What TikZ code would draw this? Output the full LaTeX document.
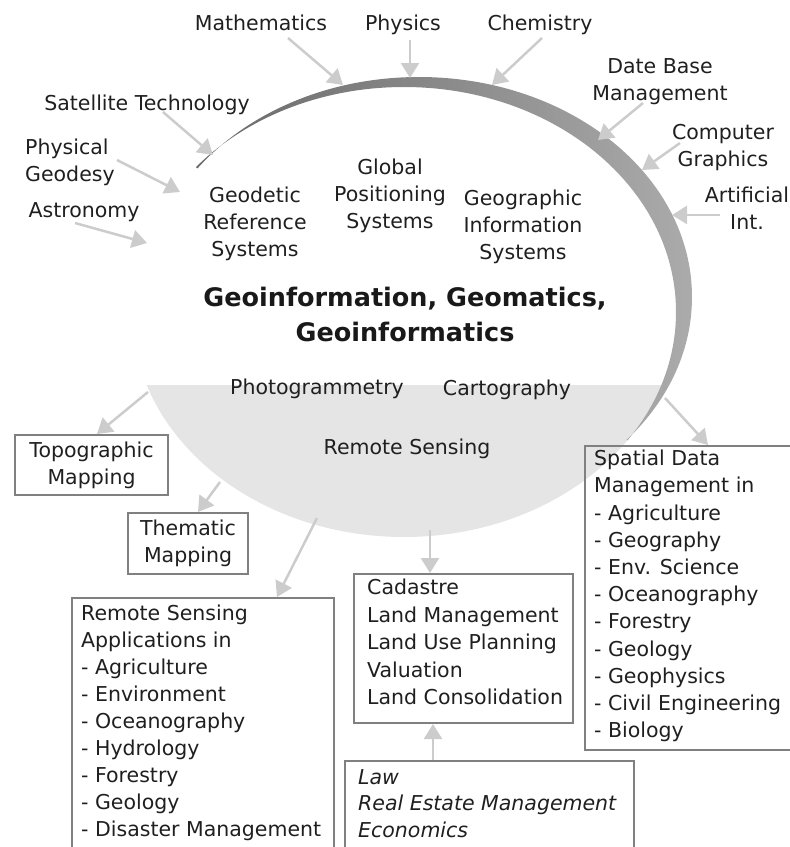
\documentclass[tikz,border=0pt]{standalone}
\usepackage{fontspec}
\setmainfont{DejaVu Sans}
\usetikzlibrary{arrows.meta}
\begin{document}
\begin{tikzpicture}[x=1pt,y=-1pt,
  lbl/.style={inner sep=0pt, text=black!88, font=\fontsize{20.5}{27}\selectfont},
  ttl/.style={inner sep=0pt, text=black!90, font=\bfseries\fontsize{25.5}{35}\selectfont, align=center},
  frame/.style={draw=black!50, line width=2pt, inner sep=0pt, anchor=north west},
  arr/.style={draw=black!20, line width=2.5pt, -{Triangle[length=15pt,width=18pt]}},
]
\useasboundingbox (0,0) rectangle (790,847);
\clip (0,0) rectangle (790,847);

% lower light-grey half of the ellipse
\begin{scope}
  \clip (0,385) rectangle (790,847);
  \fill[black!10] (404,312) ellipse[x radius=272pt, y radius=225pt];
\end{scope}
% grey crescent
\begin{scope}
  \clip (404,312) -- (-10,24) -- (-10,-10) -- (850,-10) -- (850,568) -- cycle;
  \shade[even odd rule, left color=black!62, right color=black!33]
    (419,297) ellipse[x radius=273pt, y radius=220pt]
    (404,312) ellipse[x radius=272pt, y radius=225pt];
\end{scope}

% outer labels
\node[lbl, anchor=base] (math) at (261,30.5) {Mathematics};
\node[lbl, anchor=base] (phys) at (403,30.5) {Physics};
\node[lbl, anchor=base] (chem) at (540,30.5) {Chemistry};
\node[lbl, anchor=north, align=center] (dbm) at (660,58) {Date Base\\Management};
\node[lbl, anchor=north, align=center] (cg) at (723,124) {Computer\\Graphics};
\node[lbl, anchor=north, align=center] (ai) at (747,187) {Artificial\\Int.};
\node[lbl, anchor=base] (sat) at (147,110.5) {Satellite Technology};
\node[lbl, anchor=north west, align=left] (pg) at (25,139) {Physical\\Geodesy};
\node[lbl, anchor=base] (astro) at (84,217.5) {Astronomy};

% inner labels
\node[lbl, anchor=north, align=center] (grs) at (255,187) {Geodetic\\Reference\\Systems};
\node[lbl, anchor=north, align=center] (gps) at (390,159) {Global\\Positioning\\Systems};
\node[lbl, anchor=north, align=center] (gis) at (523,190) {Geographic\\Information\\Systems};
\node[ttl, anchor=north] (title) at (405,287) {Geoinformation, Geomatics,\\Geoinformatics};
\node[lbl, anchor=base] (photo) at (317,394.5) {Photogrammetry};
\node[lbl, anchor=base] (carto) at (507,395.5) {Cartography};
\node[lbl, anchor=base] (rs) at (407,454.5) {Remote Sensing};

% boxes
\node[frame, lbl, minimum width=153pt, minimum height=60pt, align=center] (topo) at (14,434) {Topographic\\Mapping};
\node[frame, lbl, minimum width=120pt, minimum height=61pt, align=center] (them) at (127,512) {Thematic\\Mapping};

\node[frame, minimum width=262pt, minimum height=280pt] (rsbox) at (71,597) {};
\node[lbl, anchor=north west, align=left] (rstext) at (81,605)
  {Remote Sensing\\Applications in\\- Agriculture\\- Environment\\- Oceanography\\- Hydrology\\- Forestry\\- Geology\\- Disaster Management};

\node[frame, minimum width=219pt, minimum height=149pt] (cad) at (353,573) {};
\node[lbl, anchor=north west, align=left, font=\fontsize{20.5}{27.5}\selectfont] (cadtext) at (367,579)
  {Cadastre\\Land Management\\Land Use Planning\\Valuation\\Land Consolidation};

\node[frame, minimum width=289pt, minimum height=120pt] (law) at (344,760) {};
\node[lbl, anchor=north west, align=left, font=\itshape\fontsize{20.5}{26.5}\selectfont] (lawtext) at (358,769)
  {Law\\Real Estate Management\\Economics};

\node[frame, minimum width=230pt, minimum height=304pt] (sdm) at (584,445) {};
\node[lbl, anchor=north west, align=left, font=\fontsize{20.5}{27.2}\selectfont] (sdmtext) at (594,450)
  {Spatial Data\\Management in\\- Agriculture\\- Geography\\- Env. Science\\- Oceanography\\- Forestry\\- Geology\\- Geophysics\\- Civil Engineering\\- Biology};

% arrow end points
\coordinate (mathS) at (288,38);  \coordinate (mathT) at (343,85);
\coordinate (physS) at (410,40);  \coordinate (physT) at (410,78);
\coordinate (chemS) at (542,38);  \coordinate (chemT) at (492,85);
\coordinate (dbmS) at (643,103);  \coordinate (dbmT) at (598,140);
\coordinate (cgS) at (680,143);   \coordinate (cgT) at (642,170);
\coordinate (aiS) at (720,215);   \coordinate (aiT) at (672,215);
\coordinate (satS) at (163,112);  \coordinate (satT) at (213,155);
\coordinate (pgS) at (117,160);   \coordinate (pgT) at (180,192);
\coordinate (astS) at (75,223);   \coordinate (astT) at (147,243);
\coordinate (topoS) at (148,392);
\coordinate (themS) at (220,482);
\coordinate (rsaS) at (317,518);
\coordinate (cadS) at (430,530);
\coordinate (sdmS) at (665,398);

\draw[arr] (mathS) -- (mathT);
\draw[arr] (physS) -- (physT);
\draw[arr] (chemS) -- (chemT);
\draw[arr] (dbmS) -- (dbmT);
\draw[arr] (cgS) -- (cgT);
\draw[arr] (aiS) -- (aiT);
\draw[arr] (satS) -- (satT);
\draw[arr] (pgS) -- (pgT);
\draw[arr] (astS) -- (astT);
\draw[arr] (topoS) -- (topo.north -| 97,0);
\draw[arr] (themS) -- (them.north -| 198,0);
\draw[arr] (rsaS) -- (rsbox.north -| 277,0);
\draw[arr] (cadS) -- (cad.north -| cadS);
\draw[arr] (sdmS) -- (sdm.north -| 708,0);
\draw[arr] (law.north -| 433,0) -- (cad.south -| 433,0);
\end{tikzpicture}
\end{document}
